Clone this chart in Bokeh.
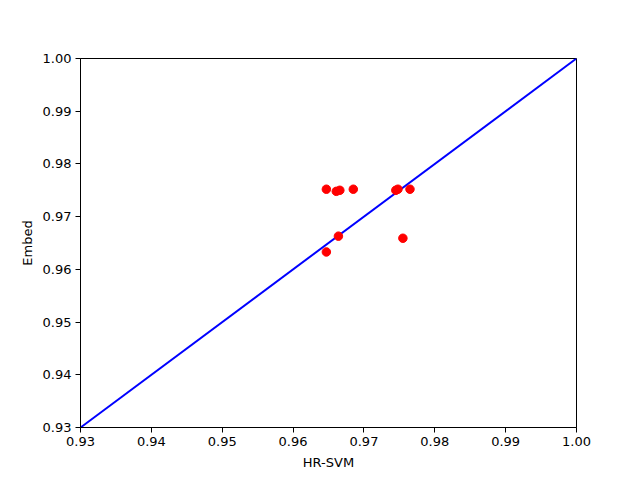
from bokeh.plotting import figure
from bokeh.models import Range1d, FixedTicker, NumeralTickFormatter
from bokeh.embed import file_html
from bokeh.resources import INLINE

hr_svm = [0.9647, 0.9661, 0.9666, 0.9685, 0.9745, 0.9748, 0.9765, 0.9664, 0.9755, 0.9647]
embed = [0.9752, 0.9748, 0.9750, 0.9752, 0.9750, 0.9752, 0.9752, 0.9663, 0.9659, 0.9633]
diag = [0.93, 1.00]
ticks = [0.93, 0.94, 0.95, 0.96, 0.97, 0.98, 0.99, 1.00]

p = figure(width=640, height=480, output_backend="svg", toolbar_location=None,
           x_range=Range1d(0.93, 1.0), y_range=Range1d(0.93, 1.0),
           min_border_left=80, min_border_right=64, min_border_top=58, min_border_bottom=53)
p.grid.visible = False
p.outline_line_color = "black"
p.outline_line_width = 1

p.line(diag, diag, line_color="#0000ff", line_width=2)
p.scatter(hr_svm, embed, size=8.5, fill_color="#ff0000", line_color="#ff0000")

for ax in (p.xaxis[0], p.yaxis[0]):
    ax.ticker = FixedTicker(ticks=ticks)
    ax.formatter = NumeralTickFormatter(format="0.00")
    ax.major_tick_out = 5
    ax.major_tick_in = 0
    ax.minor_tick_out = 0
    ax.minor_tick_in = 0
    ax.major_label_text_font = "DejaVu Sans"
    ax.major_label_text_font_size = "13px"
    ax.major_label_text_color = "black"
    ax.axis_label_text_font = "DejaVu Sans"
    ax.axis_label_text_font_size = "13px"
    ax.axis_label_text_font_style = "normal"
    ax.axis_label_text_color = "black"
    ax.axis_line_color = "black"
    ax.major_tick_line_color = "black"

p.xaxis.axis_label = "HR-SVM"
p.yaxis.axis_label = "Embed"
p.xaxis.major_label_standoff = 4
p.yaxis.major_label_standoff = 4
p.xaxis.axis_label_standoff = 6
p.yaxis.axis_label_standoff = 5

open("out.html", "w").write(file_html(p, INLINE))
